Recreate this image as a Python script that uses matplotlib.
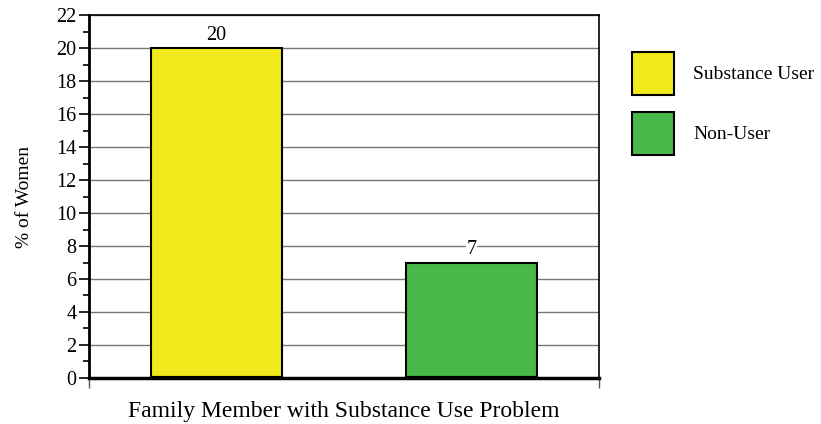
import matplotlib.pyplot as plt
from matplotlib.patches import Patch
from matplotlib.ticker import MultipleLocator

# 물질 사용 여부별 가족 중 물질사용 문제 비율
groups = ['Substance User', 'Non-User']
values = [20, 7]
colors = ['#F1E91B', '#48B84A']

plt.rcParams['font.family'] = ['Liberation Serif', 'DejaVu Serif']

fig = plt.figure(figsize=(8.21, 4.24), dpi=100)
ax = fig.add_axes([0.1084, 0.1085, 0.6212, 0.8561])

x = list(range(len(values)))
ax.bar(x, values, width=0.51, color=colors, edgecolor='black', linewidth=1.5, zorder=3)
# 막대 아래쪽 굵은 테두리
ax.hlines([0] * len(x), [i - 0.255 for i in x], [i + 0.255 for i in x],
          color='black', linewidth=3, zorder=4)

for i, v in zip(x, values):
    ax.text(i, v + 0.2, str(v), ha='center', va='bottom', fontsize=14.5, zorder=5,
            bbox=dict(facecolor='white', edgecolor='none', pad=0.5))

ax.set_xlim(-0.5, 1.5)
ax.set_ylim(0, 22)
ax.yaxis.set_major_locator(MultipleLocator(2))
ax.yaxis.set_minor_locator(MultipleLocator(1))
ax.tick_params(axis='y', which='major', direction='out', length=7, width=1.2, labelsize=14.5, pad=2)
ax.tick_params(axis='y', which='minor', direction='out', length=4, width=1.2)
ax.set_xticks([-0.5, 1.5])
ax.set_xticklabels([])
ax.tick_params(axis='x', direction='out', length=7, width=1, color='#555555')

ax.grid(axis='y', which='major', color='#777777', linewidth=1, zorder=0)
for s in ['top', 'right']:
    ax.spines[s].set_linewidth(1.2)
ax.spines['left'].set_linewidth(2)
ax.spines['bottom'].set_linewidth(2.5)

ax.set_ylabel('% of Women', fontsize=14, labelpad=17)
ax.set_xlabel('Family Member with Substance Use Problem', fontsize=17, labelpad=6)

handles = [Patch(facecolor=c, edgecolor='black', linewidth=1.5) for c in colors]
ax.legend(handles, groups, loc='upper left', bbox_to_anchor=(1.05, 0.92), frameon=False,
          fontsize=14, handlelength=2.17, handleheight=3.0, handletextpad=0.95,
          labelspacing=0.9, borderaxespad=0)

fig.savefig('out.png', dpi=100)
